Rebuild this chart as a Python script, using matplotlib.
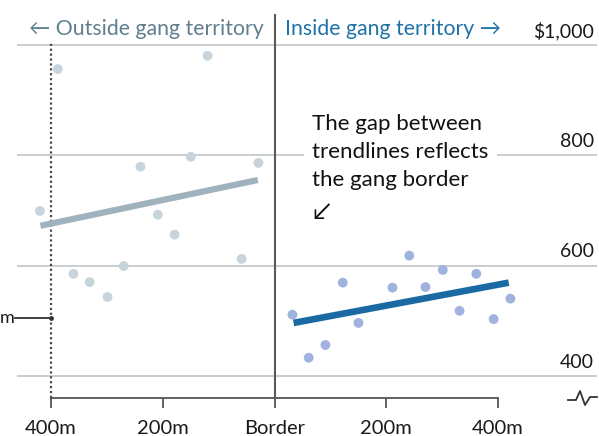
import matplotlib.pyplot as plt
from matplotlib.lines import Line2D

# distance from border (m, negative = outside) and value ($)
outside_x = [-420, -388, -360, -331, -299, -270, -240, -209, -179, -150, -120, -59, -29]
outside_y = [699, 956, 585, 570, 543, 599, 779, 692, 656, 797, 980, 612, 786]
inside_x = [32, 61, 91, 122, 150, 211, 241, 270, 301, 331, 361, 392, 422]
inside_y = [511, 433, 456, 569, 496, 560, 618, 561, 592, 518, 585, 503, 540]

# trendline end points
outside_trend_x = [-419, -30]
outside_trend_y = [672, 755]
inside_trend_x = [34, 419]
inside_trend_y = [496, 569]

grid_vals = [400, 600, 800, 1000]
grid_labels = ["400", "600", "800", "$1,000"]
xtick_vals = [-400, -200, 0, 200, 400]
xtick_labels = ["400m", "200m", "Border", "200m", "400m"]

W, H = 599, 436
FONT = ["Lato", "DejaVu Sans"]
plt.rcParams["font.family"] = FONT

fig = plt.figure(figsize=(W / 100, H / 100), dpi=100)
ax = fig.add_axes([17 / W, (H - 398) / H, 580 / W, 388 / H])
ax.set_xlim(-461, 577)
ax.set_ylim(360, 1063)

for v in grid_vals:
    ax.axhline(v, color="#c9cdd0", lw=1.4, zorder=1)
for v, lab in zip(grid_vals, grid_labels):
    ax.text(0.995, v + 25, lab, transform=ax.get_yaxis_transform(),
            ha="right", va="center", fontsize=14, color="#1a1a1a")

# border and dotted limit
ax.plot([0, 0], [360, 1054], color="#5a5a5a", lw=1.5, zorder=3, clip_on=False)
ax.plot([-400, -400], [360, 1004], color="#4a4a4a", lw=1.6,
        linestyle=(0, (1, 1.2)), zorder=3)

ax.scatter(outside_x, outside_y, s=50, color="#c8d4dc", edgecolors="none", zorder=4)
ax.scatter(inside_x, inside_y, s=50, color="#9fb3de", edgecolors="none", zorder=4)
ax.plot(outside_trend_x, outside_trend_y, color="#9fb2bd", lw=4.5,
        solid_capstyle="butt", zorder=5)
ax.plot(inside_trend_x, inside_trend_y, color="#1a69a2", lw=4.8,
        solid_capstyle="butt", zorder=5)

# headers
ax.text(-440, 1029, "\u2190 Outside gang territory", fontsize=15.3,
        color="#5f7f8e", ha="left", va="center")
ax.text(18, 1029, "Inside gang territory \u2192", fontsize=15.3,
        color="#1f72a8", ha="left", va="center")

# annotation
ax.text(67, 874, "The gap between\ntrendlines reflects\nthe gang border",
        fontsize=16, color="#111111", ha="left", va="top", linespacing=1.5,
        bbox=dict(facecolor="white", edgecolor="none", pad=6), zorder=6)
ax.text(67, 697, "\u2199", fontsize=17, color="#111111", ha="left", va="center",
        zorder=6)

# cropped neighbour label on the left
ax.plot([-465, -400], [505, 505], color="#333333", lw=1.3, clip_on=False, zorder=3)
ax.plot([-400], [505], "o", ms=2.5, color="#333333", zorder=3)
fig.text(0, (H - 318) / H, "m", ha="left", va="center", fontsize=13,
         color="#1a1a1a")

# axis
for side in ["top", "right", "left"]:
    ax.spines[side].set_visible(False)
ax.spines["bottom"].set_bounds(-400, 400)
ax.spines["bottom"].set_color("#555555")
ax.spines["bottom"].set_linewidth(1.3)
ax.set_xticks(xtick_vals)
ax.set_xticklabels(xtick_labels, fontsize=14.5, color="#1a1a1a")
ax.tick_params(axis="x", length=7, width=1.3, color="#555555", pad=9)
ax.set_yticks([])

# axis break squiggle
sx = [568, 576, 580, 585, 590, 597]
sy = [400, 400, 391, 405, 397, 397]
fig.add_artist(Line2D([x / W for x in sx], [(H - y) / H for y in sy],
                      color="#333333", lw=1.3, transform=fig.transFigure))

fig.savefig("out.png", dpi=100)
